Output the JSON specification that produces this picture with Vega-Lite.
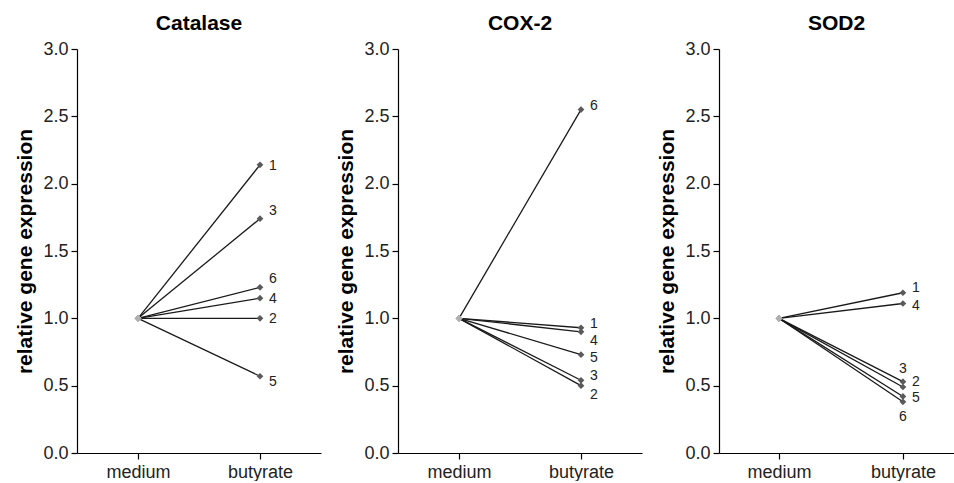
{
  "$schema": "https://vega.github.io/schema/vega-lite/v6.json",
  "padding": {"left": 14, "top": 13, "right": 0, "bottom": 0},
  "background": "white",
  "config": {
    "font": "Liberation Sans",
    "view": {"stroke": null},
    "concat": {"spacing": 14},
    "axis": {
      "grid": false,
      "domainColor": "#000",
      "domainWidth": 1.2,
      "tickColor": "#000",
      "tickWidth": 1.2,
      "tickSize": 6,
      "labelFont": "Liberation Sans",
      "labelFontSize": 18,
      "labelColor": "#222",
      "titleFont": "Liberation Sans",
      "titleFontSize": 21,
      "titleFontWeight": "bold",
      "titleColor": "#000"
    },
    "title": {"font": "Liberation Sans", "fontSize": 21, "fontWeight": "bold", "color": "#000", "frame": "group", "anchor": "middle", "offset": 6}
  },
  "data": {"values": [
    {"gene": "Catalase", "id": 1, "condition": "medium", "value": 1.0},
    {"gene": "Catalase", "id": 2, "condition": "medium", "value": 1.0},
    {"gene": "Catalase", "id": 3, "condition": "medium", "value": 1.0},
    {"gene": "Catalase", "id": 4, "condition": "medium", "value": 1.0},
    {"gene": "Catalase", "id": 5, "condition": "medium", "value": 1.0},
    {"gene": "Catalase", "id": 6, "condition": "medium", "value": 1.0},
    {"gene": "Catalase", "id": 1, "condition": "butyrate", "value": 2.14},
    {"gene": "Catalase", "id": 2, "condition": "butyrate", "value": 1.0},
    {"gene": "Catalase", "id": 3, "condition": "butyrate", "value": 1.74},
    {"gene": "Catalase", "id": 4, "condition": "butyrate", "value": 1.15},
    {"gene": "Catalase", "id": 5, "condition": "butyrate", "value": 0.57},
    {"gene": "Catalase", "id": 6, "condition": "butyrate", "value": 1.23},
    {"gene": "COX-2", "id": 1, "condition": "medium", "value": 1.0},
    {"gene": "COX-2", "id": 2, "condition": "medium", "value": 1.0},
    {"gene": "COX-2", "id": 3, "condition": "medium", "value": 1.0},
    {"gene": "COX-2", "id": 4, "condition": "medium", "value": 1.0},
    {"gene": "COX-2", "id": 5, "condition": "medium", "value": 1.0},
    {"gene": "COX-2", "id": 6, "condition": "medium", "value": 1.0},
    {"gene": "COX-2", "id": 1, "condition": "butyrate", "value": 0.93},
    {"gene": "COX-2", "id": 2, "condition": "butyrate", "value": 0.5},
    {"gene": "COX-2", "id": 3, "condition": "butyrate", "value": 0.54},
    {"gene": "COX-2", "id": 4, "condition": "butyrate", "value": 0.9},
    {"gene": "COX-2", "id": 5, "condition": "butyrate", "value": 0.73},
    {"gene": "COX-2", "id": 6, "condition": "butyrate", "value": 2.55},
    {"gene": "SOD2", "id": 1, "condition": "medium", "value": 1.0},
    {"gene": "SOD2", "id": 2, "condition": "medium", "value": 1.0},
    {"gene": "SOD2", "id": 3, "condition": "medium", "value": 1.0},
    {"gene": "SOD2", "id": 4, "condition": "medium", "value": 1.0},
    {"gene": "SOD2", "id": 5, "condition": "medium", "value": 1.0},
    {"gene": "SOD2", "id": 6, "condition": "medium", "value": 1.0},
    {"gene": "SOD2", "id": 1, "condition": "butyrate", "value": 1.19},
    {"gene": "SOD2", "id": 2, "condition": "butyrate", "value": 0.49},
    {"gene": "SOD2", "id": 3, "condition": "butyrate", "value": 0.53},
    {"gene": "SOD2", "id": 4, "condition": "butyrate", "value": 1.11},
    {"gene": "SOD2", "id": 5, "condition": "butyrate", "value": 0.42},
    {"gene": "SOD2", "id": 6, "condition": "butyrate", "value": 0.38}
  ]},
  "hconcat": [
    {
      "title": "Catalase",
      "width": 244, "height": 404,
      "transform": [{"filter": "datum.gene == 'Catalase'"}],
      "encoding": {
        "x": {"field": "condition", "type": "ordinal", "sort": ["medium", "butyrate"], "scale": {"type": "point", "padding": 0.5}, "axis": {"title": null, "labelAngle": 0, "labelPadding": 4}},
        "y": {"field": "value", "type": "quantitative", "scale": {"domain": [0, 3], "nice": false}, "axis": {"title": "relative gene expression", "values": [0, 0.5, 1, 1.5, 2, 2.5, 3], "format": ".1f", "labelPadding": 3, "titlePadding": 7}}
      },
      "layer": [
        {"mark": {"type": "line", "color": "#1a1a1a", "strokeWidth": 1.3}, "encoding": {"detail": {"field": "id"}}},
        {"mark": {"type": "point", "shape": "diamond", "filled": true, "size": 45, "opacity": 1}, "encoding": {"color": {"condition": {"test": "datum.condition == 'medium'", "value": "#b0b0b0"}, "value": "#5a5a5a"}}},
        {"transform": [{"filter": {"and": [{"field": "condition", "equal": "butyrate"}, {"field": "id", "oneOf": [1, 2, 4]}]}}], "mark": {"type": "text", "align": "left", "baseline": "middle", "dx": 9, "dy": 1, "fontSize": 14, "color": "#222"}, "encoding": {"text": {"field": "id"}}},
        {"transform": [{"filter": {"and": [{"field": "condition", "equal": "butyrate"}, {"field": "id", "oneOf": [3, 6]}]}}], "mark": {"type": "text", "align": "left", "baseline": "middle", "dx": 9, "dy": -8, "fontSize": 14, "color": "#222"}, "encoding": {"text": {"field": "id"}}},
        {"transform": [{"filter": {"and": [{"field": "condition", "equal": "butyrate"}, {"field": "id", "oneOf": [5]}]}}], "mark": {"type": "text", "align": "left", "baseline": "middle", "dx": 9, "dy": 6, "fontSize": 14, "color": "#222"}, "encoding": {"text": {"field": "id"}}}
      ]
    },
    {
      "title": "COX-2",
      "width": 244, "height": 404,
      "transform": [{"filter": "datum.gene == 'COX-2'"}],
      "encoding": {
        "x": {"field": "condition", "type": "ordinal", "sort": ["medium", "butyrate"], "scale": {"type": "point", "padding": 0.5}, "axis": {"title": null, "labelAngle": 0, "labelPadding": 4}},
        "y": {"field": "value", "type": "quantitative", "scale": {"domain": [0, 3], "nice": false}, "axis": {"title": "relative gene expression", "values": [0, 0.5, 1, 1.5, 2, 2.5, 3], "format": ".1f", "labelPadding": 3, "titlePadding": 7}}
      },
      "layer": [
        {"mark": {"type": "line", "color": "#1a1a1a", "strokeWidth": 1.3}, "encoding": {"detail": {"field": "id"}}},
        {"mark": {"type": "point", "shape": "diamond", "filled": true, "size": 45, "opacity": 1}, "encoding": {"color": {"condition": {"test": "datum.condition == 'medium'", "value": "#b0b0b0"}, "value": "#5a5a5a"}}},
        {"transform": [{"filter": {"and": [{"field": "condition", "equal": "butyrate"}, {"field": "id", "oneOf": [6, 1, 3]}]}}], "mark": {"type": "text", "align": "left", "baseline": "middle", "dx": 9, "dy": -4, "fontSize": 14, "color": "#222"}, "encoding": {"text": {"field": "id"}}},
        {"transform": [{"filter": {"and": [{"field": "condition", "equal": "butyrate"}, {"field": "id", "oneOf": [4, 2]}]}}], "mark": {"type": "text", "align": "left", "baseline": "middle", "dx": 9, "dy": 9, "fontSize": 14, "color": "#222"}, "encoding": {"text": {"field": "id"}}},
        {"transform": [{"filter": {"and": [{"field": "condition", "equal": "butyrate"}, {"field": "id", "oneOf": [5]}]}}], "mark": {"type": "text", "align": "left", "baseline": "middle", "dx": 9, "dy": 3, "fontSize": 14, "color": "#222"}, "encoding": {"text": {"field": "id"}}}
      ]
    },
    {
      "title": "SOD2",
      "width": 235, "height": 404,
      "transform": [{"filter": "datum.gene == 'SOD2'"}],
      "encoding": {
        "x": {"field": "condition", "type": "ordinal", "sort": ["medium", "butyrate"], "scale": {"type": "point", "padding": 0.448, "align": 0.54}, "axis": {"title": null, "labelAngle": 0, "labelPadding": 4}},
        "y": {"field": "value", "type": "quantitative", "scale": {"domain": [0, 3], "nice": false}, "axis": {"title": "relative gene expression", "values": [0, 0.5, 1, 1.5, 2, 2.5, 3], "format": ".1f", "labelPadding": 3, "titlePadding": 7}}
      },
      "layer": [
        {"mark": {"type": "line", "color": "#1a1a1a", "strokeWidth": 1.3}, "encoding": {"detail": {"field": "id"}}},
        {"mark": {"type": "point", "shape": "diamond", "filled": true, "size": 45, "opacity": 1}, "encoding": {"color": {"condition": {"test": "datum.condition == 'medium'", "value": "#b0b0b0"}, "value": "#5a5a5a"}}},
        {"transform": [{"filter": {"and": [{"field": "condition", "equal": "butyrate"}, {"field": "id", "oneOf": [1, 2]}]}}], "mark": {"type": "text", "align": "left", "baseline": "middle", "dx": 9, "dy": -5, "fontSize": 14, "color": "#222"}, "encoding": {"text": {"field": "id"}}},
        {"transform": [{"filter": {"and": [{"field": "condition", "equal": "butyrate"}, {"field": "id", "oneOf": [4, 5]}]}}], "mark": {"type": "text", "align": "left", "baseline": "middle", "dx": 9, "dy": 2, "fontSize": 14, "color": "#222"}, "encoding": {"text": {"field": "id"}}},
        {"transform": [{"filter": {"and": [{"field": "condition", "equal": "butyrate"}, {"field": "id", "oneOf": [3]}]}}], "mark": {"type": "text", "align": "center", "baseline": "middle", "dx": 0, "dy": -13, "fontSize": 14, "color": "#222"}, "encoding": {"text": {"field": "id"}}},
        {"transform": [{"filter": {"and": [{"field": "condition", "equal": "butyrate"}, {"field": "id", "oneOf": [6]}]}}], "mark": {"type": "text", "align": "center", "baseline": "middle", "dx": 0, "dy": 15, "fontSize": 14, "color": "#222"}, "encoding": {"text": {"field": "id"}}}
      ]
    }
  ]
}
